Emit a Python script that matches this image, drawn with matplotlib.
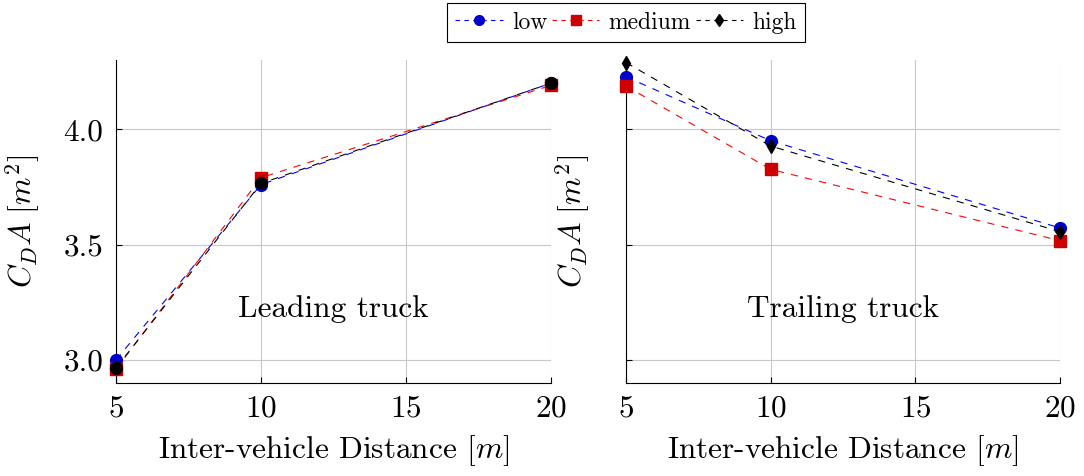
import matplotlib
matplotlib.use("Agg")
import matplotlib.pyplot as plt
from matplotlib.lines import Line2D

plt.rcParams['font.family'] = 'serif'
plt.rcParams['font.serif'] = ['cmr10']
plt.rcParams['mathtext.fontset'] = 'cm'
plt.rcParams['axes.formatter.use_mathtext'] = True

# data
distance = [5, 10, 20]
lead_low = [3.00, 3.76, 4.20]
lead_medium = [2.96, 3.79, 4.19]
lead_high = [2.965, 3.765, 4.20]
trail_low = [4.227, 3.950, 3.572]
trail_medium = [4.187, 3.826, 3.517]
trail_high = [4.289, 3.927, 3.556]
series_names = ['low', 'medium', 'high']
panel_titles = ['Leading truck', 'Trailing truck']

fs = 22.5
fig = plt.figure(figsize=(10.84, 4.76), dpi=100)
ax1 = fig.add_axes([116/1084, 1-383/476, 435/1084, 323/476])
ax2 = fig.add_axes([626/1084, 1-383/476, 434/1084, 323/476])

colors = ['#0000ff', '#ff0000', '#000000']
mcolors = ['#0000cc', '#cc0000', '#000000']

def draw(ax, data, markers, sizes, title, show_labels):
    for vals, c, mc, m, s in zip(data, colors, mcolors, markers, sizes):
        ax.plot(distance, vals, color=c, lw=0.8, dashes=(6.5, 6.5),
                marker=m, ms=s, mfc=mc, mec=mc, clip_on=False, zorder=3)
    ax.set_xlim(5, 20)
    ax.set_ylim(2.9, 4.3)
    ax.set_xticks([5, 10, 15, 20])
    ax.set_yticks([3.0, 3.5, 4.0])
    ax.set_yticklabels(['3.0', '3.5', '4.0'] if show_labels else [])
    ax.grid(True, color='#c8c8c8', lw=0.8)
    ax.set_axisbelow(True)
    for sp in ['top', 'right']:
        ax.spines[sp].set_visible(False)
    for sp in ['left', 'bottom']:
        ax.spines[sp].set_linewidth(0.8)
    ax.tick_params(direction='in', length=4, width=0.8, labelsize=fs)
    ax.tick_params(axis='y', pad=9)
    ax.tick_params(axis='x', pad=8)
    ax.set_xlabel(r'Inter-vehicle Distance $[m]$', fontsize=fs, labelpad=8)
    ax.set_ylabel(r'$C_D A\ [m^2]$', fontsize=fs)
    ax.text(12.5, 3.22, title, fontsize=fs, ha='center', va='center')

draw(ax1, [lead_low, lead_medium, lead_high], ['o', 's', 'o'], [8.5, 8.5, 8.5],
     panel_titles[0], True)
draw(ax2, [trail_low, trail_medium, trail_high], ['o', 's', 'd'], [8.5, 8.5, 7],
     panel_titles[1], False)
ax1.yaxis.set_label_coords(-0.168, 0.5)
ax2.yaxis.set_label_coords(-0.076, 0.5)

handles = [Line2D([], [], color=c, lw=0.8, dashes=(4, 4), marker=m, ms=s,
                  mfc=mc, mec=mc)
           for c, mc, m, s in zip(colors, mcolors, ['o', 's', 'd'], [7, 7, 6])]
leg = fig.legend(handles, series_names, loc='center', ncol=3,
                 bbox_to_anchor=(626/1084, 1-22.5/476), fontsize=17,
                 frameon=True, fancybox=False, framealpha=1, edgecolor='black',
                 handlelength=2.0, handletextpad=0.4, columnspacing=0.2,
                 borderpad=0.35)
leg.get_frame().set_linewidth(0.8)

fig.savefig('out.png', dpi=100)
